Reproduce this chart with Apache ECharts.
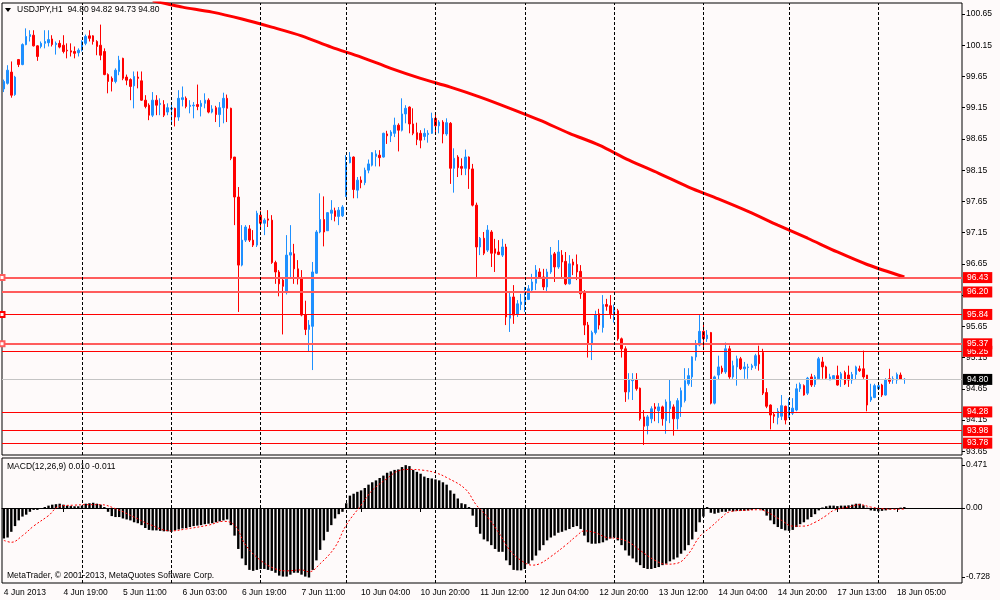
<!DOCTYPE html>
<html><head><meta charset="utf-8">
<script src="https://cdn.jsdelivr.net/npm/echarts@6/dist/echarts.min.js"></script>
<style>html,body{margin:0;padding:0;background:#fefafa}#c{width:1000px;height:600px}</style>
</head><body><div id="c"></div>
<script>
const slotCount = 258;
const tickLabels = ['4 Jun 2013','4 Jun 19:00','5 Jun 11:00','6 Jun 03:00','6 Jun 19:00','7 Jun 11:00','10 Jun 04:00','10 Jun 20:00','11 Jun 12:00','12 Jun 04:00','12 Jun 20:00','13 Jun 12:00','14 Jun 04:00','14 Jun 20:00','17 Jun 13:00','18 Jun 05:00'];
const daySeparators = [21,45,69,92,116,140,164,188,211,235];
const opens = [
99.45,99.54,99.72,99.36,99.92,99.84,100.16,100.29,100.31,100.14,
100.13,100.18,100.19,100.25,100.16,100.18,100.15,100.07,100.06,100.05,
100.03,100.07,100.18,100.30,100.30,100.21,100.15,100.05,99.68,99.62,
99.57,99.73,99.94,99.64,99.60,99.50,99.64,99.58,99.27,99.19,
99.03,99.27,99.20,99.20,99.08,99.13,99.14,99.00,99.28,99.30,
99.17,99.18,99.20,99.17,99.22,99.27,99.08,99.15,99.04,99.15,
99.30,99.14,98.36,97.72,96.63,97.03,97.21,97.03,96.95,97.43,
97.30,97.37,97.35,96.67,96.52,96.39,96.19,96.79,96.81,96.57,
96.41,95.83,95.60,95.65,96.50,97.16,97.36,97.18,97.46,97.50,
97.41,97.42,97.73,98.27,98.36,97.83,97.99,97.95,98.15,98.23,
98.37,98.39,98.36,98.73,98.70,98.74,98.87,98.79,99.05,99.16,
98.89,98.75,98.74,98.69,98.72,98.74,98.98,98.86,98.92,98.73,
98.90,98.18,98.36,98.21,98.18,98.36,98.17,97.59,96.92,97.06,
96.87,97.16,96.89,96.84,96.79,96.92,95.78,96.12,95.84,96.00,
96.04,96.08,96.23,96.34,96.52,96.44,96.28,96.52,96.81,96.60,
96.79,96.69,96.33,96.68,96.64,96.53,96.20,95.67,95.37,95.55,
95.85,95.63,96.00,95.98,95.83,95.90,95.45,95.29,94.60,94.78,
94.80,94.66,94.20,94.06,94.17,94.36,94.30,94.36,94.14,94.33,
94.36,94.17,94.36,94.46,94.73,94.84,95.16,95.35,95.57,95.45,
95.55,94.42,94.87,94.98,94.92,95.29,94.84,95.00,95.13,94.97,
94.99,94.99,95.02,95.19,95.23,94.59,94.39,94.24,94.19,94.21,
94.37,94.21,94.26,94.31,94.65,94.70,94.58,94.84,94.72,94.81,
95.08,95.00,94.79,94.81,94.86,94.81,94.91,94.87,94.79,94.88,
94.97,94.97,94.87,94.47,94.51,94.65,94.71,94.55,94.81,94.79,
94.79,94.87,94.80];
const closes = [
99.57,99.75,99.35,99.64,99.84,100.16,100.29,100.32,100.14,99.97,
100.18,100.21,100.24,100.16,100.18,100.12,100.05,100.06,100.04,100.02,
100.07,100.21,100.29,100.26,100.21,100.13,99.99,99.68,99.57,99.57,
99.75,99.91,99.62,99.59,99.49,99.65,99.62,99.27,99.17,99.03,
99.27,99.19,99.22,99.03,99.15,99.14,99.00,99.30,99.31,99.17,
99.19,99.19,99.17,99.22,99.27,99.08,99.13,99.04,99.15,99.30,
99.14,98.34,97.72,96.63,97.03,97.24,97.03,96.95,97.46,97.30,
97.35,97.35,96.67,96.52,96.33,96.29,96.79,96.83,96.57,96.41,
95.83,95.60,95.67,96.52,97.16,97.36,97.16,97.47,97.51,97.41,
97.51,97.56,98.27,98.36,97.84,97.99,97.95,98.15,98.25,98.43,
98.41,98.35,98.74,98.70,98.76,98.87,98.79,99.05,99.14,98.89,
98.74,98.64,98.63,98.74,98.74,98.98,98.86,98.92,98.73,98.91,
98.18,98.34,98.19,98.18,98.36,98.17,97.59,96.92,97.06,96.82,
97.19,96.82,96.82,96.80,96.92,95.80,96.12,95.83,96.01,96.04,
96.12,96.25,96.36,96.55,96.44,96.28,96.52,96.79,96.60,96.84,
96.68,96.33,96.65,96.63,96.52,96.17,95.67,95.37,95.55,95.83,
95.67,96.00,95.97,95.85,95.93,95.45,95.29,94.60,94.79,94.80,
94.65,94.17,94.05,94.20,94.33,94.33,94.36,94.17,94.44,94.45,
94.17,94.46,94.62,94.78,94.86,95.16,95.35,95.57,95.45,95.51,
94.42,94.84,95.00,94.92,95.29,94.84,95.02,95.13,94.97,95.00,
95.00,95.02,95.18,95.05,94.58,94.37,94.23,94.21,94.29,94.38,
94.15,94.31,94.34,94.65,94.72,94.55,94.82,94.71,94.84,95.13,
95.00,94.82,94.84,94.86,94.71,94.89,94.73,94.79,94.88,95.00,
94.94,94.84,94.39,94.52,94.70,94.70,94.55,94.79,94.77,94.81,
94.88,94.80,94.80];
const highs = [
99.60,99.83,99.89,99.66,99.93,100.18,100.42,100.39,100.39,100.15,
100.21,100.39,100.39,100.31,100.21,100.23,100.31,100.18,100.18,100.13,
100.10,100.23,100.32,100.39,100.31,100.23,100.48,100.10,99.70,99.65,
99.78,99.98,99.95,99.68,99.62,99.73,99.73,99.73,99.35,99.22,
99.40,99.35,99.30,99.27,99.22,99.23,99.15,99.43,99.49,99.33,
99.27,99.24,99.52,99.27,99.38,99.30,99.19,99.18,99.24,99.39,
99.36,99.15,98.36,97.88,97.27,97.27,97.27,97.19,97.50,97.50,
97.38,97.51,97.43,96.70,96.55,96.44,97.11,97.27,96.97,96.71,
96.55,96.06,95.75,96.68,97.19,97.78,97.73,97.48,97.67,97.55,
97.56,97.59,98.39,98.44,98.37,98.04,98.05,98.19,98.32,98.44,
98.47,98.47,98.75,98.78,98.79,98.99,98.90,99.30,99.19,99.17,
99.14,98.91,98.79,98.82,98.79,99.07,99.06,98.95,98.95,98.98,
98.92,98.50,98.39,98.34,98.48,98.37,98.25,97.63,97.08,97.16,
97.27,97.19,97.05,97.03,97.05,96.97,96.20,96.31,96.07,96.17,
96.28,96.31,96.49,96.63,96.58,96.57,96.57,96.92,96.84,97.03,
96.87,96.84,96.79,96.73,96.80,96.63,96.23,95.72,95.58,95.90,
95.93,96.15,96.09,96.15,96.00,95.93,95.47,95.33,94.90,94.90,
94.90,94.67,94.31,94.23,94.37,94.42,94.42,94.38,94.48,94.80,
94.40,94.50,94.67,94.98,94.98,95.17,95.43,95.83,95.70,95.59,
95.56,94.86,95.18,95.02,95.39,95.34,95.10,95.18,95.16,95.08,
95.05,95.05,95.21,95.34,95.29,94.66,94.40,94.28,94.34,94.55,
94.38,94.50,94.50,94.73,94.75,94.72,94.84,94.89,94.87,95.16,
95.16,95.02,94.89,94.87,95.02,94.92,94.94,95.02,94.92,95.02,
95.02,95.26,94.87,94.73,94.73,94.73,94.73,94.82,94.97,94.85,
94.91,94.91,94.82];
const lows = [
99.40,99.52,99.31,99.34,99.80,99.83,100.15,100.21,100.13,99.90,
100.10,100.10,100.13,100.13,100.00,100.10,100.02,99.94,99.97,99.94,
99.97,100.05,100.15,100.21,100.16,99.99,99.91,99.67,99.38,99.41,
99.54,99.67,99.59,99.51,99.27,99.14,99.46,99.26,99.14,98.95,
99.00,99.03,99.03,99.00,99.03,98.87,98.85,98.94,99.17,99.14,
99.06,98.98,99.11,99.01,99.14,99.06,99.06,98.92,98.84,98.90,
98.92,98.31,97.27,95.88,96.61,97.00,97.00,96.92,96.92,97.22,
97.11,97.24,96.65,96.33,96.13,95.52,96.16,96.44,96.33,96.32,
95.81,95.51,95.25,94.95,96.49,97.14,96.93,97.18,97.35,97.33,
97.27,97.40,97.72,98.26,97.70,97.70,97.86,97.91,98.10,98.21,
98.21,98.21,98.35,98.57,98.60,98.68,98.45,98.77,98.90,98.74,
98.71,98.55,98.50,98.63,98.59,98.73,98.75,98.74,98.58,98.70,
97.93,97.79,98.04,98.07,98.07,97.85,97.57,96.44,96.79,96.79,
96.84,96.60,96.52,96.79,96.76,95.67,95.56,95.69,95.80,95.91,
95.88,96.07,96.20,96.23,96.41,96.23,96.20,96.49,96.36,96.57,
96.41,96.31,96.32,96.47,96.39,96.09,95.51,95.15,95.11,95.52,
95.60,95.55,95.90,95.77,95.71,95.42,95.15,94.44,94.48,94.47,
94.62,94.14,93.75,93.92,94.10,94.13,94.10,94.06,93.93,94.10,
93.90,94.00,94.20,94.43,94.70,94.68,95.10,95.33,95.27,95.40,
94.40,94.40,94.79,94.89,94.89,94.81,94.81,94.70,94.95,94.81,
94.81,94.95,94.97,94.94,94.55,94.34,94.00,94.10,94.08,94.15,
94.08,94.18,94.23,94.29,94.60,94.54,94.55,94.68,94.68,94.79,
94.81,94.81,94.79,94.80,94.70,94.68,94.71,94.68,94.73,94.79,
94.92,94.81,94.29,94.44,94.50,94.63,94.52,94.54,94.73,94.73,
94.73,94.79,94.73];
const maBars = [40,44,48,56,64,72,80,88,96,104,112,120,128,136,144,152,160,168,176,184,192,200,208,216,224,232,242];
const maValues = [100.86,100.81,100.76,100.68,100.57,100.44,100.30,100.12,99.96,99.78,99.62,99.48,99.32,99.14,98.95,98.74,98.55,98.31,98.10,97.88,97.69,97.49,97.27,97.06,96.84,96.64,96.44];
const priceTicks = [93.65,94.15,94.65,95.15,95.65,96.15,96.65,97.15,97.65,98.15,98.65,99.15,99.65,100.15,100.65];
const levels = [96.43,96.20,95.84,95.25,95.37,94.28,93.98,93.78];
const lastPrice = 94.80;
const macdHist = [
-0.32,-0.31,-0.25,-0.19,-0.13,-0.09,-0.07,-0.04,-0.02,-0.02,
-0.01,0.01,0.025,0.035,0.04,0.045,0.035,0.025,0.02,0.018,
0.018,0.025,0.045,0.05,0.055,0.045,0.035,0.01,-0.04,-0.085,
-0.095,-0.095,-0.11,-0.12,-0.13,-0.15,-0.16,-0.18,-0.21,-0.23,
-0.235,-0.235,-0.24,-0.245,-0.245,-0.25,-0.235,-0.225,-0.215,-0.21,
-0.20,-0.19,-0.185,-0.18,-0.17,-0.165,-0.16,-0.15,-0.14,-0.13,
-0.12,-0.18,-0.29,-0.43,-0.53,-0.60,-0.65,-0.66,-0.65,-0.64,
-0.64,-0.65,-0.66,-0.68,-0.71,-0.72,-0.72,-0.70,-0.68,-0.68,
-0.70,-0.72,-0.73,-0.65,-0.55,-0.44,-0.34,-0.25,-0.18,-0.11,
-0.065,-0.04,0.05,0.13,0.15,0.17,0.185,0.21,0.245,0.27,
0.29,0.315,0.34,0.37,0.385,0.40,0.405,0.43,0.45,0.44,
0.40,0.38,0.36,0.33,0.315,0.31,0.30,0.29,0.27,0.245,
0.185,0.15,0.10,0.05,0.04,0.01,-0.08,-0.20,-0.27,-0.33,
-0.35,-0.39,-0.43,-0.46,-0.46,-0.55,-0.60,-0.65,-0.655,-0.655,
-0.64,-0.585,-0.55,-0.50,-0.445,-0.39,-0.34,-0.31,-0.29,-0.26,
-0.25,-0.235,-0.22,-0.20,-0.19,-0.22,-0.29,-0.36,-0.375,-0.375,
-0.37,-0.36,-0.34,-0.32,-0.31,-0.34,-0.39,-0.445,-0.50,-0.53,
-0.57,-0.60,-0.63,-0.64,-0.64,-0.63,-0.62,-0.60,-0.585,-0.56,
-0.54,-0.52,-0.48,-0.445,-0.39,-0.33,-0.25,-0.15,-0.09,0.01,
-0.05,-0.06,-0.05,-0.04,-0.04,-0.03,-0.035,-0.03,-0.03,-0.03,
-0.025,-0.02,-0.007,-0.007,-0.025,-0.08,-0.13,-0.17,-0.20,-0.22,
-0.235,-0.24,-0.23,-0.20,-0.17,-0.15,-0.12,-0.095,-0.065,-0.025,
0.005,0.018,0.025,0.025,0.02,0.025,0.025,0.028,0.035,0.045,
0.045,0.028,0.003,-0.025,-0.03,-0.035,-0.03,-0.025,-0.015,-0.008,
-0.003,0.004,0.010];
const signalBars = [0,2,5,8,12,15,19,22,26,30,35,39,45,49,55,59,62,65,69,73,76,80,82,85,89,92,96,99,103,106,109,113,116,119,124,127,130,133,136,139,142,144,147,151,154,156,159,162,165,168,171,175,178,181,184,187,190,193,195,199,203,205,209,212,215,218,221,223,227,230,233,236,239,242];
const signalValues = [-0.34,-0.36,-0.29,-0.19,-0.08,0.02,0.03,0.035,0.035,-0.007,-0.095,-0.17,-0.24,-0.22,-0.18,-0.14,-0.18,-0.39,-0.55,-0.64,-0.66,-0.65,-0.67,-0.585,-0.41,-0.18,0.03,0.185,0.31,0.39,0.405,0.395,0.37,0.32,0.20,0.03,-0.095,-0.26,-0.445,-0.55,-0.60,-0.585,-0.51,-0.39,-0.29,-0.24,-0.26,-0.31,-0.32,-0.36,-0.445,-0.55,-0.59,-0.58,-0.48,-0.30,-0.20,-0.095,-0.04,-0.025,-0.018,-0.04,-0.13,-0.19,-0.19,-0.15,-0.08,-0.025,0.01,0.035,0.01,-0.007,-0.014,-0.011];
const macdTickPos = [0.4515, 0, -0.7245];
const macdTickLabels = ['0.471','0.00','-0.728'];

const FONT = '"Liberation Sans", Arial, sans-serif';
const categories = Array.from({length: slotCount}, (_, i) => String(i));
const candleData = opens.map((o, i) => [o, closes[i], lows[i], highs[i]]);
const heavy = new Set([96.43, 96.20, 95.37]);
const marked = new Set([96.43, 95.84, 95.37]);
const showTick = (i) => i % 16 === 0 && i / 16 < tickLabels.length;

const levelItems = levels.map(v => ({
  yAxis: v,
  symbol: marked.has(v) ? 'emptyRect' : 'none',
  symbolSize: 5,
  itemStyle: { color: '#ff0000' },
  lineStyle: { color: heavy.has(v) ? '#ff5c5c' : '#ff0000', width: heavy.has(v) ? 2 : 1.2, type: 'solid' },
  label: { show: true, position: 'end', distance: 1, formatter: v.toFixed(2), backgroundColor: '#ff0000',
           color: '#fff', fontSize: 8.5, fontFamily: FONT, padding: [1, 4, 0, 4], lineHeight: 10 }
}));
const priceItem = {
  yAxis: lastPrice, symbol: 'none',
  lineStyle: { color: '#c4c4c4', width: 1, type: 'solid' },
  label: { show: true, position: 'end', distance: 1, formatter: lastPrice.toFixed(2), backgroundColor: '#000',
           color: '#fff', fontSize: 8.5, fontFamily: FONT, padding: [1, 4, 0, 4], lineHeight: 10 }
};
const sepMarkLine = {
  silent: true, symbol: ['none', 'none'], label: { show: false }, animation: false,
  lineStyle: { color: '#000', type: [3, 2], width: 1 },
  data: daySeparators.map(b => ({ xAxis: b }))
};

const chart = echarts.init(document.getElementById('c'));
chart.setOption({
  animation: false,
  backgroundColor: '#fefafa',
  textStyle: { fontFamily: FONT },
  grid: [
    { left: 2, top: 3, width: 960, height: 452, show: true, borderColor: '#000', borderWidth: 1, backgroundColor: 'transparent' },
    { left: 2, top: 458, width: 960, height: 125, show: true, borderColor: '#000', borderWidth: 1, backgroundColor: 'transparent' }
  ],
  xAxis: [
    { type: 'category', gridIndex: 0, data: categories, boundaryGap: true,
      axisLine: { show: false }, axisTick: { show: false }, axisLabel: { show: false }, splitLine: { show: false } },
    { type: 'category', gridIndex: 1, data: categories, boundaryGap: true,
      axisLine: { show: true, lineStyle: { color: '#000' } },
      axisTick: { show: true, interval: showTick, alignWithLabel: true, length: 4, lineStyle: { color: '#000' } },
      axisLabel: { interval: showTick, formatter: (v, i) => tickLabels[i / 16], align: 'left',
                   fontSize: 8.5, color: '#000', margin: 5, fontFamily: FONT },
      splitLine: { show: false } }
  ],
  yAxis: [
    { type: 'value', gridIndex: 0, position: 'right', min: 93.59, max: 100.826,
      axisLine: { show: false }, splitLine: { show: false },
      axisTick: { show: true, length: 3, customValues: priceTicks, lineStyle: { color: '#000' } },
      axisLabel: { customValues: priceTicks, formatter: v => v.toFixed(2), fontSize: 8.5, color: '#000', margin: 4, fontFamily: FONT } },
    { type: 'value', gridIndex: 1, position: 'right', min: -0.7875, max: 0.525,
      axisLine: { show: false }, splitLine: { show: false },
      axisTick: { show: true, length: 3, customValues: macdTickPos, lineStyle: { color: '#000' } },
      axisLabel: { customValues: macdTickPos, formatter: v => macdTickLabels[macdTickPos.indexOf(v)] || '',
                   fontSize: 8.5, color: '#000', margin: 4, fontFamily: FONT } }
  ],
  series: [
    { type: 'candlestick', xAxisIndex: 0, yAxisIndex: 0, data: candleData, barWidth: 2, z: 2,
      itemStyle: { color: '#1e90ff', color0: '#ff0000', borderColor: '#1e90ff', borderColor0: '#ff0000',
                   borderColorDoji: '#1e90ff', borderWidth: 1 },
      markLine: { silent: true, animation: false, symbol: 'none', data: [priceItem].concat(levelItems) } },
    { type: 'line', xAxisIndex: 0, yAxisIndex: 0, data: maBars.map((b, i) => [b, maValues[i]]),
      smooth: 0.3, symbol: 'none', z: 3, lineStyle: { color: '#ff0000', width: 3 }, markLine: sepMarkLine },
    { type: 'bar', xAxisIndex: 1, yAxisIndex: 1, data: macdHist, barWidth: 2.4,
      itemStyle: { color: '#000' }, markLine: sepMarkLine },
    { type: 'line', xAxisIndex: 1, yAxisIndex: 1, data: signalBars.map((b, i) => [b, signalValues[i]]),
      smooth: 0.4, symbol: 'none', z: 4, lineStyle: { color: '#ff0000', width: 1, type: [2, 2] } }
  ],
  graphic: [
    { type: 'polygon', shape: { points: [[5, 8], [11, 8], [8, 12]] }, style: { fill: '#000' } },
    { type: 'text', x: 17, y: 10, style: { text: 'USDJPY,H1  94.80 94.82 94.73 94.80', font: '8.5px ' + FONT, fill: '#000', verticalAlign: 'middle' } },
    { type: 'text', x: 7, y: 467, style: { text: 'MACD(12,26,9) 0.010 -0.011', font: '8.5px ' + FONT, fill: '#000', verticalAlign: 'middle' } },
    { type: 'text', x: 7, y: 576, style: { text: 'MetaTrader, © 2001-2013, MetaQuotes Software Corp.', font: '8.5px ' + FONT, fill: '#000', verticalAlign: 'middle' } }
  ]
});
</script></body></html>
